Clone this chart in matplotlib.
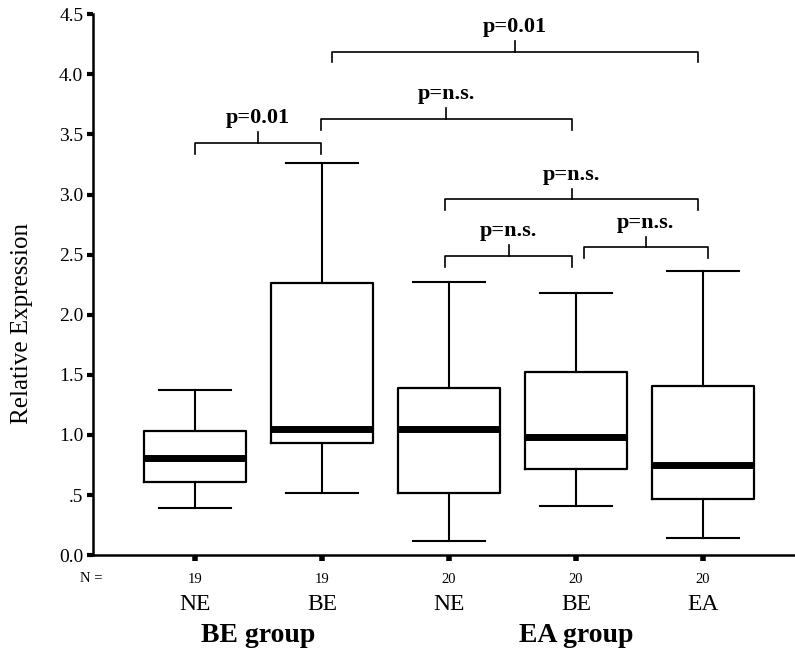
import matplotlib
matplotlib.use("Agg")
import matplotlib.pyplot as plt

plt.rcParams['font.family'] = ['Liberation Serif', 'DejaVu Serif']

# five-number summaries
categories = ['NE', 'BE', 'NE', 'BE', 'EA']
n_values = [19, 19, 20, 20, 20]
whisker_low = [0.39, 0.52, 0.12, 0.41, 0.14]
q1 = [0.61, 0.93, 0.52, 0.72, 0.47]
median = [0.81, 1.05, 1.05, 0.98, 0.75]
q3 = [1.03, 2.26, 1.39, 1.52, 1.41]
whisker_high = [1.37, 3.26, 2.27, 2.18, 2.36]

group_names = ['BE group', 'EA group']
group_centers = [1.5, 4.0]

# significance brackets: left, right, height, label
br_left = [1.0, 1.99, 2.08, 2.97, 2.97, 4.06]
br_right = [1.99, 3.97, 4.96, 4.96, 3.97, 5.04]
br_y = [3.43, 3.63, 4.19, 2.96, 2.49, 2.56]
br_label = ['p=0.01', 'p=n.s.', 'p=0.01', 'p=n.s.', 'p=n.s.', 'p=n.s.']

yticks = [0, 0.5, 1, 1.5, 2, 2.5, 3, 3.5, 4, 4.5]
ytick_labels = ['0.0', '.5', '1.0', '1.5', '2.0', '2.5', '3.0', '3.5', '4.0', '4.5']

fig = plt.figure(figsize=(7.95, 6.5), dpi=100)
ax = fig.add_axes([0.117, 0.146, 0.883, 0.832])

stats = []
for i in range(len(categories)):
    stats.append(dict(whislo=whisker_low[i], q1=q1[i], med=median[i],
                      q3=q3[i], whishi=whisker_high[i], fliers=[]))

positions = list(range(1, len(categories) + 1))
ax.bxp(stats, positions=positions, widths=0.8, showfliers=False,
       boxprops=dict(color='black', linewidth=1.6),
       whiskerprops=dict(color='black', linewidth=1.5),
       capprops=dict(color='black', linewidth=1.5),
       medianprops=dict(color='black', linewidth=5, solid_capstyle='butt'),
       capwidths=0.56)

# brackets
leg = 0.09
for l, r, y, lab in zip(br_left, br_right, br_y, br_label):
    mid = (l + r) / 2
    ax.plot([l, l, r, r], [y - leg, y, y, y - leg], color='black', lw=1.2)
    ax.plot([mid, mid], [y, y + leg], color='black', lw=1.2)
    ax.text(mid, y + leg + 0.03, lab, ha='center', va='bottom',
            fontsize=16, fontweight='bold')

ax.set_xlim(0.197, 5.724)
ax.set_ylim(0, 4.5)
ax.set_yticks(yticks)
ax.set_yticklabels(ytick_labels, fontsize=14)
ax.set_xticks(positions)
ax.set_xticklabels([str(n) for n in n_values], fontsize=10.5)
ax.tick_params(axis='y', direction='out', length=4, width=3, pad=3)
ax.tick_params(axis='x', direction='out', length=4, width=4, pad=9)

for s in ['top', 'right']:
    ax.spines[s].set_visible(False)
for s in ['left', 'bottom']:
    ax.spines[s].set_linewidth(1.8)

ax.set_ylabel('Relative Expression', fontsize=18)
ax.yaxis.set_label_coords(-0.0855, 0.429)

trans = ax.get_xaxis_transform()
ax.text(0.095, -0.043, 'N =', transform=trans, ha='left', va='center',
        fontsize=10.5, clip_on=False)
for p, c in zip(positions, categories):
    ax.text(p, -0.092, c, transform=trans, ha='center', va='center',
            fontsize=17, clip_on=False)
for gc, g in zip(group_centers, group_names):
    ax.text(gc, -0.148, g, transform=trans, ha='center', va='center',
            fontsize=20, fontweight='bold', clip_on=False)

fig.savefig('out.png', dpi=100)
